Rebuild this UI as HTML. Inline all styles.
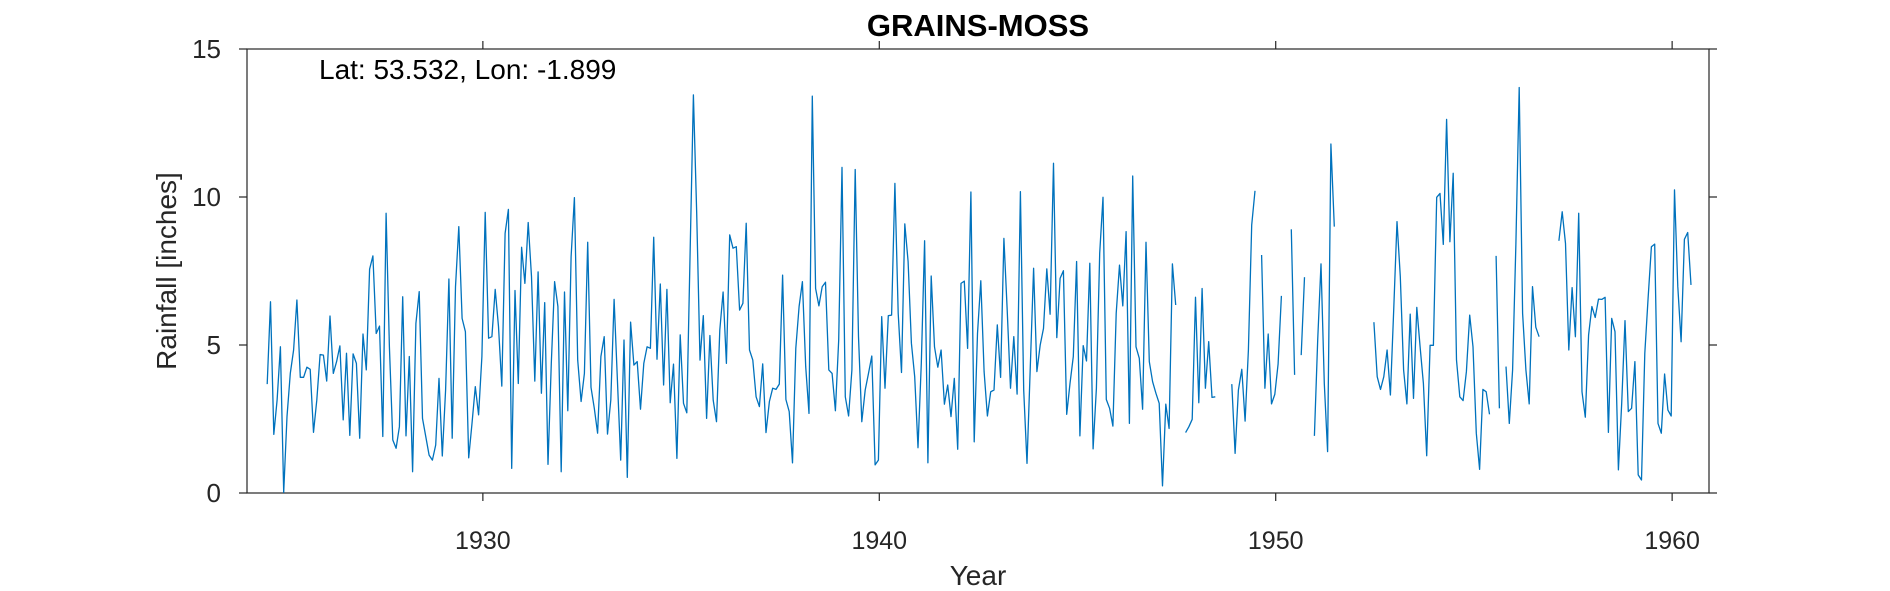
<!DOCTYPE html>
<html><head><meta charset="utf-8">
<style>
html,body{margin:0;padding:0;background:#fff;}
svg{display:block;font-family:"Liberation Sans",Arial,sans-serif;}
</style></head>
<body>
<svg id="chart" width="1890" height="591" viewBox="0 0 1890 591" xmlns="http://www.w3.org/2000/svg">
<rect width="1890" height="591" fill="#fff"/>
<text x="978" y="36" font-size="31" font-weight="bold" text-anchor="middle" fill="#000">GRAINS-MOSS</text>
<text x="319" y="79" font-size="28" fill="#000">Lat: 53.532, Lon: -1.899</text>
<text transform="translate(176,271) rotate(-90)" font-size="28" text-anchor="middle" fill="#262626">Rainfall [inches]</text>
<text x="978" y="585" font-size="28" text-anchor="middle" fill="#262626">Year</text>
<g id="axes"></g>
<g id="series"></g>
</svg>
<script>
const startYear = 1924.56;
const xTicks = [1930, 1940, 1950, 1960];
const yTicks = [0, 5, 10, 15];
const N = null;
const rainfall = [
3.68,6.46,1.98,3.14,4.94,0.02,2.58,4.04,4.83,6.52,3.91,3.91,4.25,4.18,2.05,3.14,4.68,4.66,3.78,5.98,
4.04,4.44,4.97,2.47,4.72,1.95,4.70,4.38,1.85,5.37,4.16,7.56,8.01,5.39,5.64,1.91,9.45,4.94,1.79,1.51,
2.24,6.63,1.93,4.61,0.72,5.73,6.80,2.52,1.90,1.28,1.11,1.62,3.87,1.25,3.48,7.23,1.85,6.97,9.00,5.90,
5.45,1.19,2.35,3.59,2.64,4.61,9.48,5.23,5.28,6.88,5.62,3.61,8.77,
9.58,0.83,6.84,3.70,8.30,7.08,9.14,7.31,3.78,7.47,3.37,6.43,0.97,4.38,7.14,6.30,0.72,6.79,2.78,7.98,
9.98,4.49,3.09,4.04,8.47,3.57,2.86,2.02,4.61,5.28,1.99,3.14,6.54,3.82,1.11,5.17,0.53,5.77,4.32,4.44,
2.83,4.38,4.94,4.89,8.64,4.52,7.06,3.65,6.88,3.05,4.35,1.17,5.34,3.03,2.71,8.10,13.45,9.45,4.49,5.99,
2.52,5.32,3.14,2.41,5.51,6.79,4.38,8.72,8.27,8.32,6.18,6.41,9.11,
4.83,4.49,3.25,2.92,4.36,2.04,3.09,3.54,3.50,3.68,7.36,3.16,2.75,1.02,4.89,6.30,7.14,4.27,2.69,13.41,
6.91,6.32,6.97,7.12,4.16,4.04,2.78,5.17,11.0,3.25,2.60,4.16,10.93,5.28,2.41,3.48,4.04,4.63,0.95,1.11,
5.96,3.54,5.99,6.01,10.46,6.07,4.07,9.09,7.82,5.06,3.93,1.53,4.38,8.52,1.02,7.33,4.94,4.25,4.83,3.0,
3.65,2.58,3.87,1.48,7.08,7.16,4.89,10.17,1.73,5.39,7.17,4.10,
2.60,3.42,3.48,5.68,3.91,8.60,6.18,3.54,5.28,3.34,10.18,3.48,1.0,4.27,7.59,4.10,5.0,5.56,7.57,6.04,
11.14,5.25,7.25,7.51,2.66,3.70,4.61,7.82,1.93,4.98,4.46,7.76,1.49,3.54,8.10,9.99,3.16,2.86,2.26,6.07,
7.70,6.32,8.83,2.35,10.71,4.94,4.55,2.83,8.47,4.44,3.76,3.37,3.03,0.24,3.0,2.18,7.74,6.35,N,N,
2.04,2.24,2.49,6.61,3.05,6.91,3.54,5.11,3.23,3.25,
N,N,N,N,
3.68,1.34,3.48,4.18,2.43,4.83,9.05,10.21,N,8.04,3.54,5.37,3.01,3.33,4.36,6.66,N,N,8.91,3.99,
N,4.66,7.29,N,N,1.93,5.17,7.74,3.70,1.40,11.79,9.0,N,N,N,N,N,N,N,N,N,N,N,
5.77,3.93,3.50,3.93,4.83,3.31,6.18,9.17,7.31,4.16,3.01,6.04,3.20,6.27,4.94,3.70,1.26,4.99,4.99,9.99,
10.12,8.40,12.62,8.49,10.80,4.49,3.25,3.12,
4.10,6.01,4.94,2.02,0.80,3.50,3.42,2.66,N,8.01,2.86,N,4.27,2.35,4.16,8.43,13.70,6.07,4.16,3.01,
6.97,5.60,5.28,N,N,N,N,N,8.52,9.50,8.43,4.83,6.94,5.28,9.45,3.42,2.56,5.34,6.30,5.93,6.55,6.54,
6.61,2.05,5.90,5.45,0.78,3.03,5.82,2.75,2.86,4.44,0.61,0.44,4.72,6.58,8.32,8.41,2.35,2.02,4.02,2.80,
2.60,10.24,6.97,5.11,8.57,8.80,7.03
];
const L=247,R=1709,T=49,B=493;
const xMin=1924.05,xMax=1960.93,yMin=0,yMax=15;
function sx(v){return L+(v-xMin)/(xMax-xMin)*(R-L);}
function sy(v){return B-(v-yMin)/(yMax-yMin)*(B-T);}
const NS="http://www.w3.org/2000/svg";
const axes=document.getElementById('axes');
function mk(tag,attrs,parent){const e=document.createElementNS(NS,tag);for(const k in attrs)e.setAttribute(k,attrs[k]);parent.appendChild(e);return e;}
const box=mk('rect',{x:L,y:T,width:R-L,height:B-T,fill:'none',stroke:'#262626','stroke-width':1.2},axes);


xTicks.forEach(t=>{
  const x=sx(t);
  const a=mk('line',{x1:x,x2:x,y1:B,y2:B+8,stroke:'#262626','stroke-width':1.2},axes);
  
  
  const b=mk('line',{x1:x,x2:x,y1:T,y2:T-8,stroke:'#262626','stroke-width':1.2},axes);
  
  
  const lb=mk('text',{x:x,y:B+56,'font-size':25,'text-anchor':'middle',fill:'#262626'},axes);
  lb.textContent=t;
  
  
});
yTicks.forEach(t=>{
  const y=sy(t);
  const a=mk('line',{x1:L,x2:L-8,y1:y,y2:y,stroke:'#262626','stroke-width':1.2},axes);
  
  
  const b=mk('line',{x1:R,x2:R+8,y1:y,y2:y,stroke:'#262626','stroke-width':1.2},axes);
  
  
  const lb=mk('text',{x:L-26,y:y+9,'font-size':26,'text-anchor':'end',fill:'#262626'},axes);
  lb.textContent=t;
  
  
});
let d='',pen=false;
rainfall.forEach((v,i)=>{
  if(v===null){pen=false;return;}
  const x=sx(startYear+i/12),y=sy(v);
  d+=(pen?'L':'M')+x.toFixed(1)+' '+y.toFixed(1)+' ';
  pen=true;
});
const line=mk('path',{d:d,fill:'none',stroke:'#0072BD','stroke-width':1.3,'stroke-linejoin':'round'},document.getElementById('series'));


</script>
</body></html>
